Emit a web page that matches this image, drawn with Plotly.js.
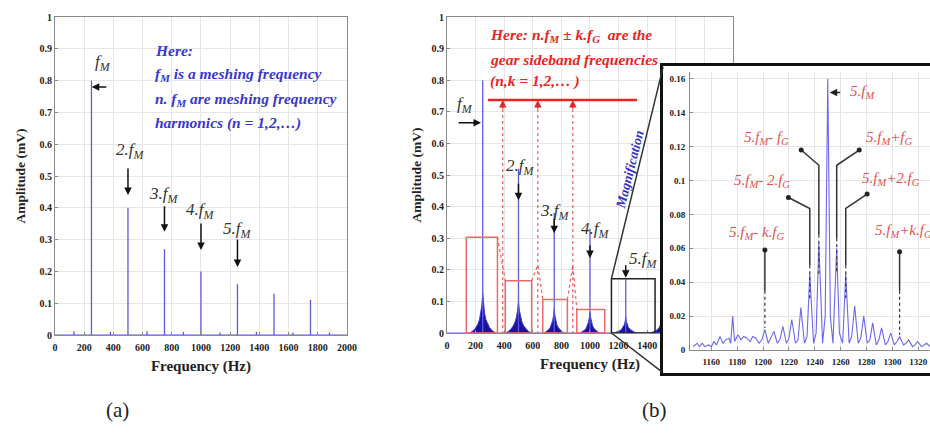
<!DOCTYPE html>
<html>
<head>
<meta charset="utf-8">
<script src="https://cdn.plot.ly/plotly-3.0.1.min.js"></script>
<style>html,body{margin:0;padding:0;background:#fff}#chart{width:930px;height:434px}</style>
</head>
<body>
<div id="chart"></div>
<script>
// ---------- (a) meshing frequency spectrum ----------
const harmonicsA = [250, 500, 750, 1000, 1250, 1500, 1750];
const ampA = [0.8, 0.4, 0.27, 0.2, 0.16, 0.13, 0.11];
const minorFA = [130, 380, 630, 880, 1130, 1380, 1630, 1880];
const minorAA = [0.012, 0.01, 0.012, 0.01, 0.008, 0.01, 0.008, 0.008];

// ---------- (b) sideband spectrum ----------
const harmonicsB = [250, 500, 750, 1000, 1250, 1500];
const ampB = [0.8, 0.52, 0.38, 0.33, 0.17, 0.13];
const cone1F = [160, 185, 202, 216, 228, 237, 244, 250, 256, 263, 272, 284, 298, 315, 340];
const cone1A = [0, 0.008, 0.017, 0.028, 0.043, 0.062, 0.088, 0.125, 0.088, 0.062, 0.043, 0.028, 0.017, 0.008, 0];
const cone2F = [410, 433, 450, 464, 476, 486, 494, 500, 506, 514, 524, 536, 550, 567, 590];
const cone2A = [0, 0.006, 0.014, 0.023, 0.035, 0.05, 0.072, 0.1, 0.072, 0.05, 0.035, 0.023, 0.014, 0.006, 0];
const cone3F = [680, 698, 712, 723, 732, 739, 745, 750, 755, 761, 768, 777, 788, 802, 820];
const cone3A = [0, 0.005, 0.011, 0.018, 0.027, 0.039, 0.055, 0.075, 0.055, 0.039, 0.027, 0.018, 0.011, 0.005, 0];
const cone4F = [930, 948, 962, 973, 982, 989, 995, 1000, 1005, 1011, 1018, 1027, 1038, 1052, 1070];
const cone4A = [0, 0.004, 0.009, 0.015, 0.023, 0.034, 0.048, 0.065, 0.048, 0.034, 0.023, 0.015, 0.009, 0.004, 0];
const cone5F = [1170, 1192, 1208, 1221, 1232, 1240, 1246, 1250, 1254, 1260, 1268, 1279, 1292, 1308, 1330];
const cone5A = [0, 0.003, 0.007, 0.012, 0.018, 0.026, 0.037, 0.05, 0.037, 0.026, 0.018, 0.012, 0.007, 0.003, 0];
const cone6F = [1420, 1442, 1458, 1471, 1482, 1490, 1496, 1500, 1504, 1510, 1518, 1529, 1542, 1558, 1580];
const cone6A = [0, 0.003, 0.006, 0.011, 0.016, 0.023, 0.033, 0.045, 0.033, 0.023, 0.016, 0.011, 0.006, 0.003, 0];

// boxes around harmonics in (b)
const redBoxF0 = [135, 408, 670, 908];
const redBoxF1 = [353, 592, 842, 1103];
const redBoxTop = [0.303, 0.165, 0.106, 0.074];
const blackBox = [1150, 1455, 0.172];

// ---------- magnified 5 fM region ----------
const insetF = [1146, 1149, 1151, 1153, 1155, 1158, 1160, 1162, 1164, 1166.7, 1169, 1171, 1173.7, 1175, 1176.5, 1178, 1180.6, 1183, 1185, 1187.5, 1190, 1192, 1194.5, 1197, 1199, 1201.4, 1204, 1206, 1208.4, 1211, 1213, 1215.3, 1218, 1220, 1222.2, 1225, 1227, 1229.2, 1232, 1234, 1236.1, 1239, 1241, 1243.1, 1246, 1248, 1250, 1252, 1254, 1256.9, 1259, 1261.5, 1263.9, 1266.5, 1268.5, 1270.8, 1273.5, 1275.5, 1277.8, 1280.5, 1282.5, 1284.7, 1287.5, 1289.5, 1291.6, 1294.5, 1296.5, 1298.6, 1301.5, 1303.5, 1305.5, 1308.5, 1310.5, 1312.5, 1315.5, 1317.5, 1319.4, 1322.5, 1324.5, 1326.4, 1329];
const insetA = [0.002, 0.004, 0.002, 0.004, 0.002, 0.003, 0.002, 0.005, 0.003, 0.008, 0.004, 0.006, 0.007, 0.004, 0.02, 0.005, 0.009, 0.006, 0.008, 0.007, 0.005, 0.008, 0.007, 0.004, 0.006, 0.012, 0.004, 0.007, 0.011, 0.004, 0.006, 0.014, 0.004, 0.007, 0.018, 0.004, 0.006, 0.025, 0.004, 0.008, 0.045, 0.004, 0.01, 0.063, 0.004, 0.02, 0.16, 0.02, 0.004, 0.06, 0.01, 0.004, 0.045, 0.004, 0.008, 0.026, 0.004, 0.007, 0.02, 0.004, 0.006, 0.016, 0.003, 0.006, 0.013, 0.003, 0.005, 0.01, 0.003, 0.005, 0.008, 0.003, 0.004, 0.006, 0.002, 0.003, 0.005, 0.002, 0.003, 0.004, 0.002];

// ---------- helpers ----------
function stems(f, a) {
  const x = [], y = [];
  f.forEach((v, i) => { x.push(v, v, null); y.push(0, a[i], null); });
  return {x, y};
}
const SERIF = 'Liberation Serif';
const sA = stems(harmonicsA.concat(minorFA), ampA.concat(minorAA));
const sB = stems(harmonicsB, ampB);

const traces = [];
traces.push({x: [0, 2000], y: [0, 0], mode: 'lines', line: {color: 'rgb(90,90,225)', width: 1.2}, xaxis: 'x', yaxis: 'y', cliponaxis: false});
traces.push({x: sA.x, y: sA.y, mode: 'lines', line: {color: 'rgb(90,90,225)', width: 1.3}, xaxis: 'x', yaxis: 'y'});
[[cone1F, cone1A], [cone2F, cone2A], [cone3F, cone3A], [cone4F, cone4A], [cone5F, cone5A], [cone6F, cone6A]].forEach(c => {
  traces.push({x: c[0], y: c[1], mode: 'lines', fill: 'toself', fillcolor: 'rgb(25,20,160)', line: {color: 'rgb(60,55,210)', width: 1}, xaxis: 'x2', yaxis: 'y2'});
});
traces.push({x: [0, 2000], y: [0, 0], mode: 'lines', line: {color: 'rgb(90,90,225)', width: 1.2}, xaxis: 'x2', yaxis: 'y2'});
traces.push({x: sB.x, y: sB.y, mode: 'lines', line: {color: 'rgb(90,90,225)', width: 1.3}, xaxis: 'x2', yaxis: 'y2'});
traces.push({x: [], y: [], mode: 'lines', xaxis: 'x3', yaxis: 'y3'});
traces.push({x: insetF, y: insetA, mode: 'lines', line: {color: 'rgb(105,105,235)', width: 1.1}, xaxis: 'x4', yaxis: 'y4'});

const tickFont = {family: SERIF, size: 10, color: '#222', weight: 'bold'};
const axBase = {showline: true, linecolor: '#8a8a8a', linewidth: 1, mirror: true, ticks: 'inside', ticklen: 3,
  tickcolor: '#8a8a8a', showgrid: true, gridcolor: '#e6e6e6', zeroline: false, tickfont: tickFont, automargin: false};
const xTitle = {text: 'Frequency (Hz)', font: {family: SERIF, size: 15, color: '#222', weight: 'bold'}, standoff: 8};
const yTitleA = {text: 'Amplitude (mV)', font: {family: SERIF, size: 13.5, color: '#222', weight: 'bold'}, standoff: 10};
const yTitleB = {text: 'Amplitude (mV)', font: {family: SERIF, size: 13.5, color: '#222', weight: 'bold'}, standoff: 6};

const ann = [];
function txt(x, y, t, xr, yr, font, extra) {
  ann.push(Object.assign({x, y, xref: xr, yref: yr, text: t, showarrow: false, font}, extra || {}));
}
function arr(x, y, ax, ay, xr, yr, color, head) {
  ann.push({x, y, xref: xr, yref: yr, ax, ay, axref: 'pixel', ayref: 'pixel', text: '', showarrow: true,
    arrowhead: head === undefined ? 2 : head, arrowsize: 1, arrowwidth: 1.5, arrowcolor: color, standoff: 0});
}
const fLabel = {family: SERIF, size: 17, color: '#333', style: 'italic'};
// (a)
txt(329, 0.855, 'f<sub>M</sub>', 'x', 'y', fLabel);
arr(252, 0.78, 16, 0, 'x', 'y', '#111');
txt(514, 0.58, '2.f<sub>M</sub>', 'x', 'y', fLabel);
arr(500, 0.44, 0, -28, 'x', 'y', '#111');
txt(745, 0.44, '3.f<sub>M</sub>', 'x', 'y', fLabel);
arr(750, 0.325, 0, -27, 'x', 'y', '#111');
txt(995, 0.39, '4.f<sub>M</sub>', 'x', 'y', fLabel);
arr(1000, 0.267, 0, -28, 'x', 'y', '#111');
txt(1250, 0.33, '5.f<sub>M</sub>', 'x', 'y', fLabel);
arr(1250, 0.214, 0, -29, 'x', 'y', '#111');
const blueFont = {family: SERIF, size: 15.5, color: 'rgb(55,55,205)', style: 'italic', weight: 'bold'};
['Here:', 'f<sub>M</sub> is a meshing frequency', 'n. f<sub>M</sub> are meshing frequency', 'harmonics (n = 1,2,…)'].forEach((t, i) => {
  txt(671, [0.896, 0.818, 0.742, 0.667][i], t, 'x', 'y', blueFont, {xanchor: 'left'});
});
// (b)
txt(126, 0.72, 'f<sub>M</sub>', 'x2', 'y2', fLabel);
arr(238, 0.665, -24, 0, 'x2', 'y2', '#111');
txt(510, 0.525, '2.f<sub>M</sub>', 'x2', 'y2', fLabel);
arr(500, 0.42, 0, -18, 'x2', 'y2', '#111');
txt(755, 0.383, '3.f<sub>M</sub>', 'x2', 'y2', fLabel);
arr(750, 0.316, 0, -16, 'x2', 'y2', '#111');
txt(1035, 0.326, '4.f<sub>M</sub>', 'x2', 'y2', fLabel);
arr(1000, 0.237, 0, -14, 'x2', 'y2', '#111');
txt(1370, 0.231, '5.f<sub>M</sub>', 'x2', 'y2', fLabel);
arr(1250, 0.175, 0, -14, 'x2', 'y2', '#111');
const redFont = {family: SERIF, size: 15.5, color: 'rgb(235,35,35)', style: 'italic', weight: 'bold'};
['Here: n.f<sub>M</sub> ± k.f<sub>G</sub>  are the', 'gear sideband frequencies', '(n,k = 1,2,… )'].forEach((t, i) => {
  txt(287, [0.94, 0.864, 0.797][i], t, 'x2', 'y2', redFont, {xanchor: 'left'});
});
[390, 635, 880].forEach(f => arr(f, 0.737, 0, 10, 'x2', 'y2', 'rgb(225,40,40)'));
txt(1280, 0.516, 'Magnification', 'x2', 'y2', {family: SERIF, size: 13.5, color: 'rgb(50,50,200)', style: 'italic', weight: 'bold'}, {textangle: -76});
arr(blackBox[0], blackBox[2], 52, -213, 'x2', 'y2', '#333', 0);
arr(blackBox[0], 0, 52, 40, 'x2', 'y2', '#333', 0);
// inset
const insetRed = {family: SERIF, size: 15, color: 'rgb(228,80,80)', style: 'italic'};
txt(1277, 0.152, '5.f<sub>M</sub>', 'x4', 'y4', insetRed);
arr(1251.5, 0.152, 12, 0, 'x4', 'y4', '#222');
txt(1203, 0.125, '5.f<sub>M</sub>- f<sub>G</sub>', 'x4', 'y4', insetRed);
txt(1297, 0.125, '5.f<sub>M</sub>+f<sub>G</sub>', 'x4', 'y4', insetRed);
txt(1199, 0.1, '5.f<sub>M</sub>- 2.f<sub>G</sub>', 'x4', 'y4', insetRed);
txt(1299, 0.101, '5.f<sub>M</sub>+2.f<sub>G</sub>', 'x4', 'y4', insetRed);
txt(1195, 0.069, '5.f<sub>M</sub>- k.f<sub>G</sub>', 'x4', 'y4', insetRed);
txt(1308.5, 0.07, '5.f<sub>M</sub>+k.f<sub>G</sub>', 'x4', 'y4', insetRed);
// panel labels
txt(0.126, 0.055, '(a)', 'paper', 'paper', {family: SERIF, size: 21, color: '#222'}, {xanchor: 'center', yanchor: 'middle'});
txt(0.704, 0.055, '(b)', 'paper', 'paper', {family: SERIF, size: 21, color: '#222'}, {xanchor: 'center', yanchor: 'middle'});

const shapes = [];
redBoxF0.forEach((f0, i) => shapes.push({type: 'rect', xref: 'x2', yref: 'y2', x0: f0, x1: redBoxF1[i], y0: 0, y1: redBoxTop[i], line: {color: 'rgb(235,105,105)', width: 1.5}}));
shapes.push({type: 'rect', xref: 'x2', yref: 'y2', x0: blackBox[0], x1: blackBox[1], y0: 0, y1: blackBox[2], line: {color: '#222', width: 1.5}});
const dashRed = {color: 'rgb(235,95,95)', width: 1.2, dash: 'dot'};
[390, 635, 880].forEach(f => shapes.push({type: 'line', xref: 'x2', yref: 'y2', x0: f, x1: f, y0: 0.728, y1: 0, line: dashRed}));
shapes.push({type: 'path', xref: 'x2', yref: 'y2', path: 'M 353,0.303 L 408,0.165', line: dashRed});
shapes.push({type: 'path', xref: 'x2', yref: 'y2', path: 'M 592,0.165 L 635,0.215 L 670,0.106', line: dashRed});
shapes.push({type: 'path', xref: 'x2', yref: 'y2', path: 'M 842,0.106 L 880,0.215 L 908,0.074', line: dashRed});
shapes.push({type: 'line', xref: 'x2', yref: 'y2', x0: 287, x1: 1329, y0: 0.737, y1: 0.737, line: {color: 'rgb(235,35,35)', width: 2.5}});
// inset leader lines
const lead = {color: '#333', width: 1.5};
const leadDash = {color: '#333', width: 1.2, dash: 'dot'};
const leaders = [
  [1229.5, 0.118, 1243.1, 0.109, 0.068, 0.045],
  [1274.3, 0.118, 1256.9, 0.109, 0.066, 0.045],
  [1219.6, 0.090, 1236.1, 0.0835, 0.05, 0.03],
  [1280.4, 0.092, 1263.9, 0.0835, 0.05, 0.03],
  [1201.4, 0.059, 1201.4, 0.059, 0.035, 0.013],
  [1305.5, 0.058, 1305.5, 0.058, 0.035, 0.009]
];
leaders.forEach(L => {
  shapes.push({type: 'path', xref: 'x4', yref: 'y4', path: `M ${L[0]},${L[1]} L ${L[2]},${L[3]} L ${L[2]},${L[4]}`, line: lead});
  shapes.push({type: 'line', xref: 'x4', yref: 'y4', x0: L[2], x1: L[2], y0: L[4], y1: L[5], line: leadDash});
  shapes.push({type: 'circle', xref: 'x4', yref: 'y4', xsizemode: 'pixel', ysizemode: 'pixel', xanchor: L[0], yanchor: L[1],
    x0: -2.5, x1: 2.5, y0: -2.5, y1: 2.5, fillcolor: '#222', line: {width: 0}});
});

const layout = {
  width: 930, height: 434, margin: {l: 0, r: 0, t: 0, b: 0}, paper_bgcolor: '#fff', plot_bgcolor: '#fff',
  showlegend: false, hovermode: false,
  xaxis: Object.assign({}, axBase, {domain: [0.0591, 0.3731], range: [0, 2000], dtick: 200, anchor: 'y', title: xTitle, ticklabelstandoff: 3}),
  yaxis: Object.assign({}, axBase, {domain: [0.2281, 0.9608], range: [0, 1], dtick: 0.1, anchor: 'x', title: yTitleA}),
  xaxis2: Object.assign({}, axBase, {domain: [0.4806, 0.7882], range: [0, 2000], dtick: 200, anchor: 'y2', title: xTitle, ticklabelstandoff: 3}),
  yaxis2: Object.assign({}, axBase, {domain: [0.2327, 0.9608], range: [0, 1], dtick: 0.1, anchor: 'x2', title: yTitleB}),
  xaxis3: {domain: [0.7129, 1], range: [0, 1], anchor: 'y3', showline: true, mirror: true, linewidth: 3, linecolor: '#111',
    showgrid: false, zeroline: false, showticklabels: false, ticks: '', fixedrange: true},
  yaxis3: {domain: [0.1406, 0.8479], range: [0, 1], anchor: 'x3', showline: true, linewidth: 3, linecolor: '#111',
    showgrid: false, zeroline: false, showticklabels: false, ticks: '', fixedrange: true},
  xaxis4: Object.assign({}, axBase, {domain: [0.7419, 1], range: [1143.5, 1329], dtick: 20, anchor: 'y4', mirror: false,
    tickfont: {family: SERIF, size: 9, color: '#222', weight: 'bold'}, ticklabelstandoff: 3}),
  yaxis4: Object.assign({}, axBase, {domain: [0.1935, 0.834], range: [0, 0.164], dtick: 0.02, anchor: 'x4', mirror: false,
    tickfont: {family: SERIF, size: 9, color: '#222', weight: 'bold'}, ticklabelstandoff: 2}),
  annotations: ann,
  shapes: shapes
};
Plotly.newPlot('chart', traces, layout, {staticPlot: true, displayModeBar: false});
</script>
</body>
</html>
